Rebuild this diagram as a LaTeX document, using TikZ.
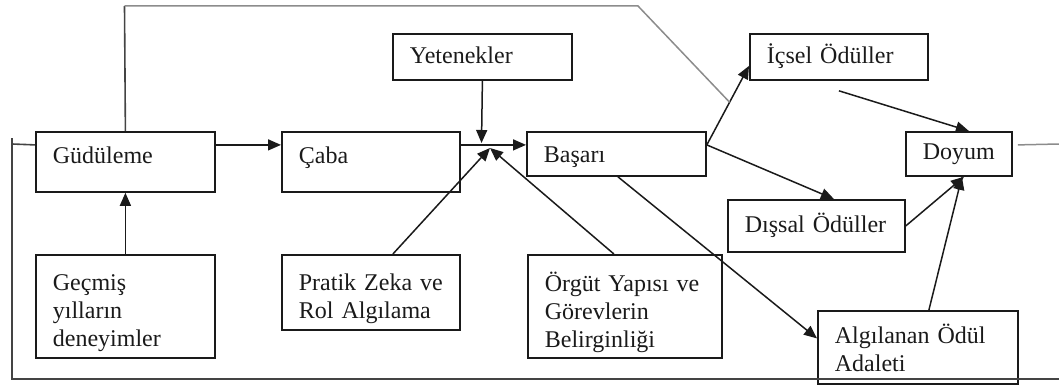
\documentclass[tikz,border=0pt]{standalone}
\usepackage{fontspec}
\setmainfont{Liberation Serif}
\usetikzlibrary{arrows.meta,calc}
\definecolor{ink}{HTML}{1A1A1A}
\definecolor{greyline}{HTML}{8C8C8C}
\definecolor{midline}{HTML}{444444}
\tikzset{
  box/.style={draw=ink, line width=1.8pt, anchor=north west, inner xsep=17pt, inner ysep=0pt,
    align=left, text=ink, font=\fontsize{24}{28}\selectfont, text height=20pt},
  arr/.style={draw=ink, line width=1.5pt, -{Triangle[length=13pt,width=11pt]}},
  plain/.style={draw=midline, line width=1.6pt},
  greyl/.style={draw=greyline, line width=1.5pt},
}
\begin{document}
\begin{tikzpicture}[x=1pt,y=-1pt]
\useasboundingbox (0,0) rectangle (1059,385);
% boxes
\node[box, text width=145pt, minimum height=60pt, text depth=16pt] (gud) at (35,131) {G\"ud\"uleme};
\node[box, text width=144pt, minimum height=60pt, text depth=16pt] (caba) at (281,131) {\c{C}aba};
\node[box, text width=145pt, minimum height=46pt, text depth=6pt] (yet) at (392,33) {Yetenekler};
\node[box, text width=145pt, minimum height=44pt, text depth=2pt] (basari) at (526,131) {Ba\c{s}ar\i};
\node[box, text width=144pt, minimum height=46pt, text depth=6pt] (icsel) at (749,33) {\.I\c{c}sel \"Od\"uller};
\node[box, text width=72pt, minimum height=44pt, text depth=8pt] (doyum) at (905,131) {Doyum};
\node[box, text width=143pt, minimum height=52pt, text depth=6pt] (dissal) at (727,199) {D\i\c{s}sal \"Od\"uller};
\node[box, text width=166pt, minimum height=73pt, text depth=28pt] (algi) at (817,310) {Alg\i lanan \"Od\"ul\\Adaleti};
\node[box, text width=145pt, minimum height=103pt, text depth=51pt] (gecmis) at (35,254) {Ge\c{c}mi\c{s}\\y\i llar\i n\\deneyimler};
\node[box, text width=144pt, minimum height=75pt, text depth=23pt] (pratik) at (281,254) {Pratik Zeka ve\\Rol Alg\i lama};
\node[box, text width=160pt, minimum height=103pt, text depth=49pt] (orgut) at (527,254) {\"Org\"ut Yap\i s\i{} ve\\G\"orevlerin\\Belirginli\u{g}i};
% junction points
\coordinate (jy) at (481.5,143);
\coordinate (jp) at (490,148);
% connectors
\draw[arr] ([yshift=17pt]gud.east) -- ([yshift=17pt]caba.west);
\draw[arr] ([yshift=17pt]caba.east) -- ([yshift=9pt]basari.west);
\draw[arr] (yet.south) -- (jy);
\draw[arr] ([xshift=22pt]pratik.north) -- (jp);
\draw[arr] ([xshift=-11pt]orgut.north) -- (jp);
\draw[arr] (gecmis.north) -- (gud.south);
\draw[arr] ([yshift=9pt]basari.east) -- ([yshift=-9pt]icsel.west);
\draw[arr] ([yshift=9pt]basari.east) -- ([xshift=17.5pt]dissal.north);
\draw[arr] ([yshift=-10pt]icsel.south) -- ([xshift=10pt]doyum.north);
\draw[arr] (dissal.east) -- ([xshift=5pt]doyum.south);
\draw[arr] ([xshift=11pt]algi.north) -- ([xshift=3pt]doyum.south);
\draw[arr] ([xshift=1.5pt]basari.south) -- ([yshift=9pt]algi.west);
% feedback line from Güdüleme to the Başarı-İçsel arrow
\coordinate (tl) at ($([yshift=9pt]basari.east)!0.54!([yshift=-9pt]icsel.west)$);
\coordinate (tc1) at (124.5,6);
\coordinate (tc2) at (638,6);
\draw[plain] (gud.north) -- (tc1);
\draw[greyl] (tc1) -- (tc2) -- (tl);
% grey line out of Doyum
\coordinate (dout) at (1059,144);
\draw[greyl] ([xshift=5pt,yshift=9pt]doyum.east) -- (dout);
% outer feedback frame
\coordinate (ftop) at (12,138);
\coordinate (fcorner) at (12,379);
\coordinate (fend) at (1059,379);
\coordinate (ftick) at (12,144);
\draw[plain] (ftop) -- (fcorner) -- (fend);
\draw[plain] (ftick) -- ([yshift=17pt]gud.west);
\end{tikzpicture}
\end{document}
